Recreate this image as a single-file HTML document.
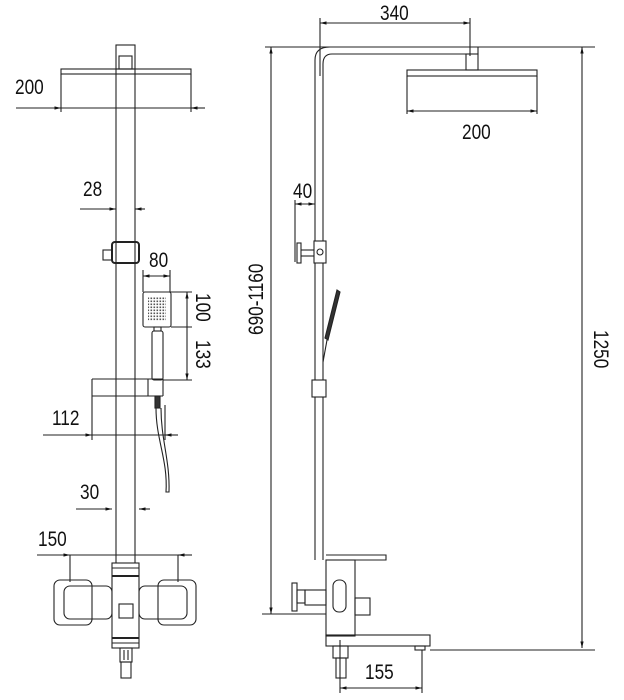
<!DOCTYPE html>
<html><head><meta charset="utf-8"><style>
html,body{margin:0;padding:0;background:#fff;}
svg{display:block;}
text{font-family:"Liberation Sans",sans-serif;font-size:21px;fill:#111;}
</style></head><body>
<svg width="624" height="700" viewBox="0 0 624 700" xmlns="http://www.w3.org/2000/svg">
<defs>
<marker id="a" viewBox="0 0 10 10" refX="10" refY="5" markerWidth="6" markerHeight="6" orient="auto-start-reverse"><path d="M0,2.5 L10,5 L0,7.5 z" fill="#111"/></marker>
<pattern id="d" width="3" height="3" patternUnits="userSpaceOnUse"><rect x="0.5" y="0.5" width="1.6" height="1.6" fill="#555"/></pattern>
</defs>
<g stroke="#222" stroke-width="1.1" fill="none">
<!-- LEFT VIEW -->
<rect x="116" y="45" width="19" height="24"/>
<rect x="119" y="56" width="13" height="13"/>
<rect x="61" y="69" width="130" height="5"/>
<line x1="61" y1="74" x2="61" y2="112"/><line x1="191" y1="74" x2="191" y2="112"/>
<line x1="16" y1="108" x2="61" y2="108" marker-end="url(#a)"/>
<line x1="61" y1="108" x2="191" y2="108"/>
<line x1="205" y1="108" x2="191" y2="108" marker-end="url(#a)"/>
<line x1="116" y1="69" x2="116" y2="563"/><line x1="135" y1="69" x2="135" y2="563"/>
<line x1="80" y1="209" x2="116" y2="209" marker-end="url(#a)"/>
<line x1="145" y1="209" x2="135" y2="209" marker-end="url(#a)"/>
<rect x="112" y="242" width="27" height="21" rx="3" stroke-width="2"/>
<rect x="103" y="250" width="9" height="10"/>
<line x1="143" y1="276" x2="170" y2="276" marker-start="url(#a)" marker-end="url(#a)"/>
<line x1="143" y1="270" x2="143" y2="292"/><line x1="170" y1="270" x2="170" y2="292"/>
<rect x="143" y="292" width="28" height="35" rx="2"/>
<rect x="148" y="297" width="18" height="24" fill="url(#d)" stroke="none"/>
<rect x="154" y="327" width="7" height="4"/>
<rect x="152" y="331" width="11" height="49" rx="2"/>
<line x1="170" y1="292" x2="192" y2="292"/><line x1="171" y1="327" x2="192" y2="327"/><line x1="163" y1="380" x2="192" y2="380"/>
<line x1="187" y1="292" x2="187" y2="380" marker-start="url(#a)" marker-end="url(#a)"/>
<line x1="92" y1="379" x2="163" y2="379"/><line x1="92" y1="396" x2="163" y2="396"/>
<line x1="92" y1="379" x2="92" y2="440"/><line x1="163" y1="379" x2="163" y2="396"/>
<line x1="148" y1="379" x2="148" y2="396"/>
<rect x="155" y="396" width="5" height="12" fill="#333"/>
<path d="M156,408 C156,440 168,460 166,492 L169,492 C170,460 161,440 161,408"/>
<line x1="165" y1="405" x2="165" y2="440"/>
<line x1="43" y1="435" x2="92" y2="435" marker-end="url(#a)"/>
<line x1="92" y1="435" x2="165" y2="435"/>
<line x1="178" y1="435" x2="165" y2="435" marker-end="url(#a)"/>
<line x1="76" y1="509" x2="112" y2="509" marker-end="url(#a)"/>
<line x1="150" y1="509" x2="139" y2="509" marker-end="url(#a)"/>
<line x1="37" y1="555" x2="70" y2="555" marker-end="url(#a)"/>
<line x1="70" y1="555" x2="178" y2="555"/>
<line x1="192" y1="555" x2="178" y2="555" marker-end="url(#a)"/>
<line x1="70" y1="555" x2="70" y2="582"/><line x1="178" y1="555" x2="178" y2="582"/>
<rect x="54" y="580" width="38" height="45" rx="6"/>
<rect x="64" y="586" width="48" height="33" rx="6"/>
<rect x="158" y="580" width="38" height="45" rx="6"/>
<rect x="139" y="586" width="48" height="33" rx="6"/>
<rect x="112" y="563" width="27" height="85" fill="#fff"/>
<line x1="112" y1="568" x2="139" y2="568"/><line x1="112" y1="576" x2="139" y2="576" stroke-width="2"/>
<line x1="112" y1="638" x2="139" y2="638" stroke-width="2"/><line x1="112" y1="643" x2="139" y2="643"/>
<rect x="119" y="604" width="14" height="14"/>
<rect x="120" y="648" width="12" height="14"/>
<line x1="124" y1="650" x2="124" y2="660"/><line x1="128" y1="650" x2="128" y2="660"/>
<rect x="121" y="662" width="10" height="16"/>

<!-- RIGHT VIEW -->
<line x1="265" y1="47" x2="595" y2="47"/>
<line x1="271" y1="47" x2="271" y2="614" marker-start="url(#a)" marker-end="url(#a)"/>
<line x1="262" y1="614" x2="326" y2="614"/>
<line x1="582" y1="47" x2="582" y2="648" marker-start="url(#a)" marker-end="url(#a)"/>
<line x1="430" y1="650" x2="595" y2="650"/>
<line x1="320" y1="23" x2="470" y2="23" marker-start="url(#a)" marker-end="url(#a)"/>
<line x1="320" y1="18" x2="320" y2="76"/><line x1="470" y1="18" x2="470" y2="56"/>
<path d="M315,560 L315,60 Q315,47 330,47 L478,47 L478,54 L332,54 Q323,54 323,64 L323,560"/>
<rect x="466" y="54" width="12" height="16"/>
<rect x="407" y="70" width="130" height="6"/>
<line x1="407" y1="76" x2="407" y2="114"/><line x1="537" y1="76" x2="537" y2="114"/>
<line x1="407" y1="111" x2="537" y2="111" marker-start="url(#a)" marker-end="url(#a)"/>
<line x1="295" y1="200" x2="295" y2="262"/>
<line x1="295" y1="204" x2="315" y2="204" marker-start="url(#a)" marker-end="url(#a)"/>
<rect x="314" y="241" width="12" height="22" fill="#fff"/>
<circle cx="320" cy="252" r="3"/>
<rect x="297" y="243" width="4" height="20"/>
<line x1="301" y1="250" x2="314" y2="250"/><line x1="301" y1="256" x2="314" y2="256"/>
<path d="M325,338 L337,290 L340,292 L328,340 z" fill="#333"/>
<line x1="327" y1="340" x2="323" y2="362"/>
<rect x="312" y="380" width="14" height="17" fill="#fff"/>
<path d="M326,555 L386,555 L386,560 L355,560"/>
<path d="M326,563 L340,570 L355,567"/>
<rect x="326" y="560" width="29" height="76" fill="#fff"/>
<rect x="333" y="580" width="13" height="32" rx="6"/>
<rect x="355" y="598" width="15" height="17"/>
<rect x="292" y="583" width="5" height="28"/>
<rect x="297" y="590" width="8" height="13"/>
<rect x="305" y="590" width="21" height="15"/>
<rect x="326" y="635" width="104" height="11"/>
<rect x="415" y="646" width="10" height="4"/>
<rect x="333" y="646" width="15" height="12"/>
<rect x="336" y="658" width="10" height="20"/>
<line x1="340" y1="640" x2="340" y2="693"/><line x1="422" y1="650" x2="422" y2="693"/>
<line x1="340" y1="688" x2="422" y2="688" marker-start="url(#a)" marker-end="url(#a)"/>
</g>
<text transform="translate(15,94) scale(0.82,1)">200</text>
<text transform="translate(83,196) scale(0.82,1)">28</text>
<text transform="translate(149,267) scale(0.82,1)">80</text>
<text transform="translate(196,293) rotate(90) scale(0.82,1)">100</text>
<text transform="translate(196,340) rotate(90) scale(0.82,1)">133</text>
<text transform="translate(52,425) scale(0.82,1)">112</text>
<text transform="translate(80,499) scale(0.82,1)">30</text>
<text transform="translate(38,546) scale(0.82,1)">150</text>
<text transform="translate(380,20) scale(0.82,1)">340</text>
<text transform="translate(462,139) scale(0.82,1)">200</text>
<text transform="translate(293,198) scale(0.82,1)">40</text>
<text transform="translate(263,335) rotate(-90) scale(0.82,1)">690-1160</text>
<text transform="translate(594,330) rotate(90) scale(0.82,1)">1250</text>
<text transform="translate(365,679) scale(0.82,1)">155</text>
</svg>
</body></html>
